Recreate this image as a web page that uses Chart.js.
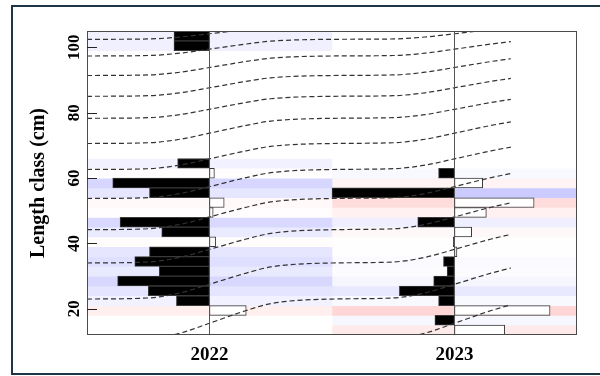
<!DOCTYPE html>
<html lang="en">
<head>
<meta charset="UTF-8">
<title>Length frequency 2022-2023</title>
<script src="https://cdn.jsdelivr.net/npm/chart.js@4.4.1/dist/chart.umd.min.js"></script>
<style>
  html, body { margin: 0; padding: 0; background: #fff; overflow: hidden; }
  #frame { position: absolute; left: 11px; top: 5px; width: 600px; height: 366px; border: 2px solid #1e3644; }
  #wrap { position: absolute; left: 0; top: 0; width: 600px; height: 376px; }
</style>
</head>
<body>
<div id="frame"></div>
<div id="wrap"><canvas id="lfq" width="600" height="376"></canvas></div>
<script>
// length classes (3 cm bins, mid points)
const binMids = [13.5, 16.5, 19.5, 22.5, 25.5, 28.5, 31.5, 34.5, 37.5, 40.5, 43.5, 46.5,
                 49.5, 52.5, 55.5, 58.5, 61.5, 64.5, 67.5, 70.5, 73.5, 76.5, 79.5, 82.5,
                 85.5, 88.5, 91.5, 94.5, 97.5, 100.5, 103.5];

// restructured frequencies per sample (negative = black bar to the left)
const freq2022 = [0, 0, 0.30, -0.27, -0.50, -0.75, -0.41, -0.61, -0.49, 0.05, -0.39, -0.73,
                  0.03, 0.12, -0.49, -0.79, 0.04, -0.26, 0, 0, 0, 0, 0, 0,
                  0, 0, 0, 0, 0, -0.29, -0.29];
const freq2023 = [0.41, -0.16, 0.78, -0.13, -0.45, -0.17, -0.06, -0.09, 0.02, -0.01, 0.14, -0.30,
                  0.26, 0.65, -1.00, 0.23, -0.13, 0, 0, 0, 0, 0, 0, 0,
                  0, 0, 0, 0, 0, 0, 0];

const sampleYears = [2022, 2023];
const yTicks = [20, 40, 60, 80, 100];
const yRange = [12, 105];
const xRange = [2021.5, 2023.5];

// growth curves at these times
const curveTimes = [2021.5, 2021.75, 2021.88, 2022.0, 2022.15, 2022.25, 2022.5, 2022.75, 2022.88, 2023.0, 2023.15, 2023.23];
const growthCurves = [
  [102.45, 102.57, 103.16, 104.15, 105.44, 106.14, 106.6, 106.71, 107.23, 108.12, 109.26, 109.78],
  [97.35, 97.50, 98.22, 99.44, 101.02, 101.89, 102.45, 102.57, 103.16, 104.15, 105.44, 106.02],
  [91.38, 91.56, 92.39, 93.83, 95.68, 96.69, 97.35, 97.50, 98.22, 99.44, 101.02, 101.74],
  [85.02, 85.21, 86.10, 87.63, 89.60, 90.68, 91.38, 91.56, 92.39, 93.83, 95.68, 96.51],
  [78.29, 78.49, 79.43, 81.05, 83.14, 84.28, 85.02, 85.21, 86.10, 87.63, 89.60, 90.49],
  [70.58, 70.81, 71.89, 73.74, 76.13, 77.44, 78.29, 78.49, 79.43, 81.05, 83.14, 84.08],
  [62.63, 62.87, 63.98, 65.89, 68.35, 69.71, 70.58, 70.81, 71.89, 73.74, 76.13, 77.21],
  [53.76, 54.03, 55.27, 57.40, 60.15, 61.65, 62.63, 62.87, 63.98, 65.89, 68.35, 69.47],
  [44.21, 44.50, 45.83, 48.13, 51.09, 52.71, 53.76, 54.03, 55.27, 57.40, 60.15, 61.39],
  [34.03, 34.34, 35.76, 38.20, 41.36, 43.09, 44.21, 44.50, 45.83, 48.13, 51.09, 52.42],
  [23.00, 23.33, 24.88, 27.52, 30.94, 32.82, 34.03, 34.34, 35.76, 38.20, 41.36, 42.78],
  [10.45, 10.83, 12.58, 15.60, 19.49, 21.62, 23.00, 23.33, 24.88, 27.52, 30.94, 32.49],
  [null, null, null, null, null, null, 10.45, 10.83, 12.58, 15.60, 19.49, 21.24]
];

const BAR_SCALE = 0.5;   // 1 unit of restructured frequency = half a year on the time axis
const SERIF = "'Liberation Serif', 'Times New Roman', 'DejaVu Serif', serif";

function bandColour(v) {
  const s = Math.round(Math.min(1, Math.abs(v)) * 52);
  if (v < 0) return `rgb(${255 - s},${255 - s},255)`;
  if (v > 0) return `rgb(255,${255 - s},${255 - s})`;
  return '#ffffff';
}

const datasets = [];

[freq2022, freq2023].forEach((freq, i) => {
  const yr = sampleYears[i];
  // background band for the whole sample column
  datasets.push({
    type: 'bar', indexAxis: 'y', order: 3, grouped: false,
    data: binMids.map(m => ({ y: m, x: [yr - 0.5, yr + 0.5] })),
    backgroundColor: freq.map(bandColour),
    borderWidth: 0, barPercentage: 1, categoryPercentage: 1
  });
  // frequency bars
  const idx = binMids.map((m, k) => k).filter(k => freq[k] !== 0);
  datasets.push({
    type: 'bar', indexAxis: 'y', order: 2, grouped: false,
    data: idx.map(k => ({ y: binMids[k], x: [yr, yr + freq[k] * BAR_SCALE] })),
    backgroundColor: idx.map(k => freq[k] < 0 ? '#000000' : '#ffffff'),
    borderColor: '#3a3a3a', borderWidth: 1, borderSkipped: false,
    barPercentage: 1, categoryPercentage: 1
  });
});

growthCurves.forEach(c => {
  datasets.push({
    type: 'line', indexAxis: 'x', order: 1,
    data: curveTimes.map((t, j) => ({ x: t, y: c[j] })).filter(p => p.y !== null),
    borderColor: '#333333', borderWidth: 1.2, borderDash: [5, 3],
    pointRadius: 0, fill: false, cubicInterpolationMode: 'monotone'
  });
});

// box around the plot + inward y tick marks
const frameBox = {
  id: 'frameBox',
  afterDraw(chart) {
    const { ctx, chartArea: a, scales: { y } } = chart;
    ctx.save();
    ctx.lineWidth = 1;
    ctx.strokeStyle = '#4a4a4a';
    ctx.strokeRect(a.left + 0.5, a.top + 0.5, a.width - 1, a.height - 1);
    ctx.strokeStyle = '#222222';
    yTicks.forEach(v => {
      const py = Math.round(y.getPixelForValue(v)) + 0.5;
      ctx.beginPath();
      ctx.moveTo(a.left, py);
      ctx.lineTo(a.left + 10, py);
      ctx.stroke();
    });
    ctx.restore();
  }
};

new Chart(document.getElementById('lfq'), {
  type: 'bar',
  data: { datasets },
  options: {
    responsive: false,
    animation: false,
    layout: { padding: { top: 31, right: 23, left: 0, bottom: 0 } },
    plugins: { legend: { display: false }, tooltip: { enabled: false } },
    scales: {
      x: {
        type: 'linear', min: xRange[0], max: xRange[1], offset: false,
        afterFit: s => { s.height = 41; },
        afterBuildTicks: s => { s.ticks = sampleYears.map(v => ({ value: v })); },
        // year lines through the plot, drawn above the bars
        grid: { display: true, offset: false, drawTicks: false, color: '#555555', lineWidth: 1, z: 1 },
        border: { display: false },
        ticks: {
          callback: v => String(v), autoSkip: false, maxRotation: 0, padding: 9,
          color: '#000', font: { family: SERIF, size: 19, weight: 'bold' }
        }
      },
      y: {
        type: 'linear', min: yRange[0], max: yRange[1], offset: false,
        afterFit: s => { s.width = 87; },
        afterBuildTicks: s => { s.ticks = yTicks.map(v => ({ value: v })); },
        grid: { display: false, drawTicks: false },
        border: { display: false },
        ticks: {
          callback: v => String(v), autoSkip: false, minRotation: 90, maxRotation: 90,
          crossAlign: 'center', padding: 0,
          color: '#000', font: { family: SERIF, size: 17, weight: 'bold' }
        },
        title: {
          display: true, text: 'Length class (cm)', color: '#000',
          font: { family: SERIF, size: 20, weight: 'bold' },
          padding: { top: 27, bottom: 0 }
        }
      }
    }
  },
  plugins: [frameBox]
});
</script>
</body>
</html>
